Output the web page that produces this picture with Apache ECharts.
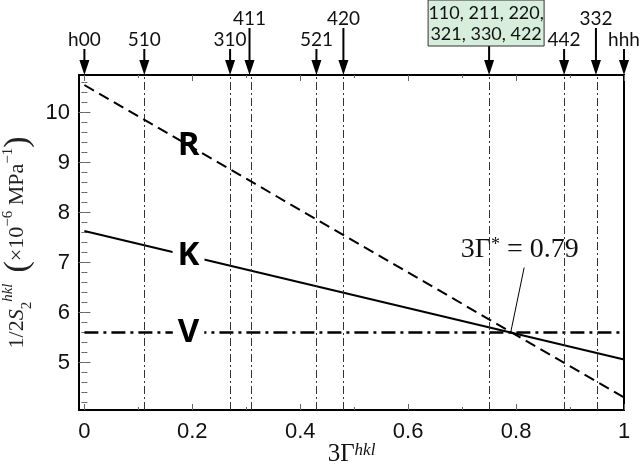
<!DOCTYPE html>
<html>
<head>
<meta charset="utf-8">
<script src="https://cdn.jsdelivr.net/npm/echarts@6/dist/echarts.min.js"></script>
<style>
  html, body { margin: 0; padding: 0; background: #fff; }
  #chart { width: 640px; height: 465px; }
</style>
</head>
<body>
<div id="chart"></div>
<script>
// 数据
const xEnds = [0, 1];
const rValues = [10.55, 4.30];
const kValues = [7.63, 5.06];
const vValues = [5.6, 5.6];

const peakX = [0, 0.111, 0.270, 0.306, 0.430, 0.480, 0.750, 0.889, 0.948, 1];
const peakNames = ['h00', '510', '310', '411', '521', '420', '110, 211, 220,\n321, 330, 422', '442', '332', 'hhh'];
const peakLong = [0, 0, 0, 1, 0, 1, 1, 0, 1, 0];

const crossX = 0.79;
const letterX = 0.193;

const xMajor = [0, 0.2, 0.4, 0.6, 0.8, 1];
const xMinor = [0.1, 0.3, 0.5, 0.7, 0.9];
const yMajor = [5, 6, 7, 8, 9, 10];
const yMinor = [4.2, 4.4, 4.6, 4.8, 5.2, 5.4, 5.6, 5.8, 6.2, 6.4, 6.6, 6.8, 7.2, 7.4, 7.6, 7.8,
  8.2, 8.4, 8.6, 8.8, 9.2, 9.4, 9.6, 9.8, 10.2, 10.4, 10.6];

const xMin = -0.01, xMax = 1;
const yMin = 4.05, yMax = 10.75;

const sansFont = 'Liberation Sans';
const serifFont = 'Liberation Serif';

// 直线上取值
function lineAt(vals, x) {
  return vals[0] + (vals[1] - vals[0]) * (x - xEnds[0]) / (xEnds[1] - xEnds[0]);
}

function makeAxis(position, min, max, ticks, tickLen, labels) {
  return {
    type: 'value', position: position, min: min, max: max,
    axisLine: { show: false },
    splitLine: { show: false },
    axisTick: { show: true, inside: true, length: tickLen, customValues: ticks,
      lineStyle: { color: '#666', width: 1 } },
    axisLabel: labels ? {
      show: true, customValues: labels, margin: 11,
      fontFamily: sansFont, fontSize: 22, color: '#111'
    } : { show: false }
  };
}

const xAxes = [
  makeAxis('bottom', xMin, xMax, xMajor, 6, xMajor),
  makeAxis('bottom', xMin, xMax, xMinor, 3),
  makeAxis('top', xMin, xMax, xMajor, 6),
  makeAxis('top', xMin, xMax, xMinor, 3)
];
Object.assign(xAxes[0], {
  name: '{n|3Γ}{sup|hkl}', nameLocation: 'middle', nameGap: 32, nameMoveOverlap: false,
  nameTextStyle: {
    fontFamily: serifFont, fontSize: 25, color: '#111',
    rich: {
      n: { fontFamily: serifFont, fontSize: 25, color: '#111' },
      sup: { fontFamily: serifFont, fontSize: 17, fontStyle: 'italic', color: '#111', verticalAlign: 'top' }
    }
  }
});

const yAxes = [
  makeAxis('left', yMin, yMax, yMajor, 6, yMajor),
  makeAxis('left', yMin, yMax, yMinor, 3),
  makeAxis('right', yMin, yMax, yMajor, 6),
  makeAxis('right', yMin, yMax, yMinor, 3)
];
yAxes[0].axisLabel.margin = 9;
Object.assign(yAxes[0], {
  name: '{n|1/2}{i|S}{sub|2}{sup|hkl}  {p|(}{n|×10}{e|−6}{n| MPa}{e|−1}{p|)}',
  nameLocation: 'middle', nameRotate: 90, nameGap: 38,
  nameTextStyle: {
    fontFamily: serifFont, fontSize: 22, color: '#222',
    rich: {
      n: { fontFamily: serifFont, fontSize: 22, color: '#222' },
      i: { fontFamily: serifFont, fontSize: 22, fontStyle: 'italic', color: '#222' },
      sub: { fontFamily: serifFont, fontSize: 15, color: '#222', verticalAlign: 'bottom' },
      sup: { fontFamily: serifFont, fontSize: 15, fontStyle: 'italic', color: '#222', verticalAlign: 'top' },
      e: { fontFamily: serifFont, fontSize: 15, color: '#222', verticalAlign: 'top' },
      p: { fontFamily: serifFont, fontSize: 34, color: '#222' }
    }
  }
});

const letterLabel = {
  show: true, position: 'inside', fontFamily: 'Open Sans', fontWeight: 'bold',
  fontSize: 33, color: '#000', backgroundColor: '#fff', padding: [0, 5]
};

function letterPoint(name, vals) {
  return { name: name, coord: [letterX, lineAt(vals, letterX)], label: Object.assign({ formatter: name }, letterLabel) };
}

// 顶部箭头
function renderPeak(params, api) {
  const i = params.dataIndex;
  const tip = api.coord([api.value(0), yMax]);
  const x = tip[0], y0 = tip[1];
  const name = peakNames[i];
  const boxed = name.indexOf('\n') >= 0;
  const shaftTop = boxed ? y0 - 29 : (peakLong[i] ? y0 - 47 : y0 - 26);
  const children = [
    { type: 'line', shape: { x1: x, y1: shaftTop, x2: x, y2: y0 - 10 }, style: { stroke: '#000', lineWidth: 2 } },
    { type: 'polygon', shape: { points: [[x - 5, y0 - 15], [x + 5, y0 - 15], [x, y0]] }, style: { fill: '#000' } }
  ];
  if (boxed) {
    children.push({ type: 'rect', shape: { x: x - 61, y: 0, width: 116, height: shaftTop }, style: { fill: '#d6eedb', stroke: '#333', lineWidth: 1 } });
    children.push({ type: 'text', style: { text: name, x: x - 3, y: shaftTop / 2 + 1, align: 'center', verticalAlign: 'middle',
      fontFamily: 'Lato', fontSize: 18, lineHeight: 21, fill: '#111' } });
  } else {
    children.push({ type: 'text', style: { text: name, x: x, y: shaftTop - 9, align: 'center', verticalAlign: 'middle',
      fontFamily: 'Lato', fontSize: 19, fill: '#111' } });
  }
  return { type: 'group', children: children };
}

const chart = echarts.init(document.getElementById('chart'), null, { renderer: 'canvas' });
chart.setOption({
  animation: false,
  backgroundColor: '#fff',
  grid: { left: 79, right: 16, top: 75, bottom: 55, show: true, borderColor: '#000', borderWidth: 2,
    backgroundColor: 'transparent', outerBoundsMode: 'none', containLabel: false },
  xAxis: xAxes,
  yAxis: yAxes,
  series: [
    {
      name: 'V', type: 'line', symbol: 'none', z: 3,
      data: xEnds.map((x, i) => [x, vValues[i]]),
      lineStyle: { color: '#000', width: 2.5, type: [14, 5, 3, 5] },
      markLine: {
        silent: true, symbol: 'none', label: { show: false },
        lineStyle: { color: '#333', width: 1, type: [8, 3, 2, 3] },
        data: peakX.filter(v => v > 0 && v < 1).map(v => ({ xAxis: v }))
      },
      markPoint: { symbolSize: 0, data: [letterPoint('V', vValues)] }
    },
    {
      name: 'K', type: 'line', symbol: 'none', z: 4,
      data: xEnds.map((x, i) => [x, kValues[i]]),
      lineStyle: { color: '#000', width: 2 },
      markLine: {
        silent: true, symbol: 'none', label: { show: false },
        lineStyle: { color: '#000', width: 1, type: 'solid' },
        data: [[{ coord: [crossX, lineAt(vValues, crossX)] }, { coord: [0.815, 6.9] }]]
      },
      markPoint: {
        symbolSize: 0,
        data: [
          letterPoint('K', kValues),
          { coord: [0.807, 7.25], label: {
            show: true, position: 'inside', formatter: '3Γ{s|*} = 0.79',
            fontFamily: serifFont, fontSize: 28, color: '#111',
            rich: { s: { fontFamily: serifFont, fontSize: 18, color: '#111', verticalAlign: 'top' } }
          } }
        ]
      }
    },
    {
      name: 'R', type: 'line', symbol: 'none', z: 5,
      data: xEnds.map((x, i) => [x, rValues[i]]),
      lineStyle: { color: '#000', width: 2, type: [11, 6] },
      markPoint: { symbolSize: 0, data: [letterPoint('R', rValues)] }
    },
    {
      name: 'peaks', type: 'custom', clip: false, z: 6,
      data: peakX.map((x, i) => [x, i]),
      renderItem: renderPeak
    }
  ]
});
</script>
</body>
</html>
